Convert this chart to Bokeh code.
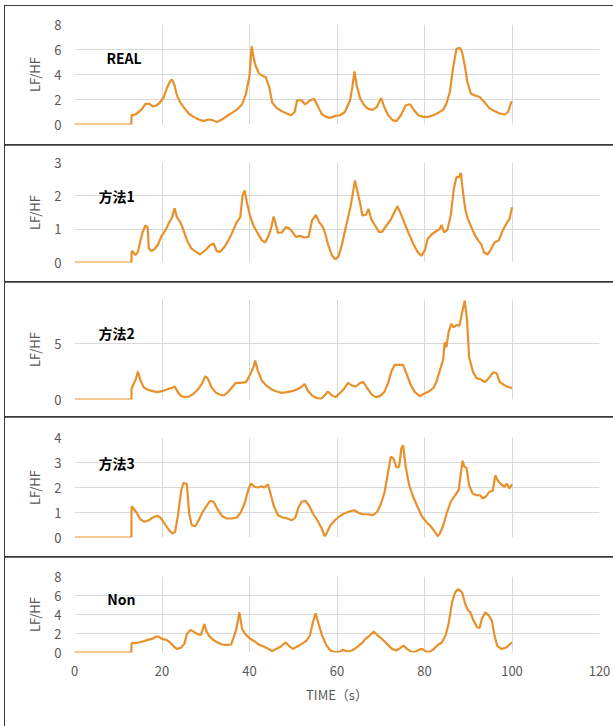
from bokeh.plotting import figure
from bokeh.layouts import column
from bokeh.models import Range1d, FixedTicker, Label
from bokeh.embed import file_html
from bokeh.resources import INLINE

# (time s, LF/HF) samples
REAL = [(0, 0), (13, 0), (13.05, 0.75), (13.9, 0.8), (14.7, 1.0), (15.5, 1.27), (16.2, 1.65), (17.1, 1.65),
        (17.9, 1.45), (18.6, 1.5), (19.4, 1.7), (20.4, 2.2), (21.1, 2.9), (21.9, 3.5), (22.3, 3.58), (22.9, 3.1),
        (23.4, 2.33), (24.2, 1.75), (25.2, 1.27), (26.1, 0.88), (27.2, 0.61), (28.4, 0.4), (29.5, 0.27), (30.6, 0.4),
        (31.6, 0.35), (32.5, 0.19), (33.7, 0.4), (34.8, 0.66), (36.0, 0.93), (37.1, 1.19), (38.3, 1.6), (39.2, 2.47),
        (40.0, 3.9), (40.5, 6.26), (41.0, 5.25), (41.4, 4.7), (42.2, 4.05), (43.2, 3.85), (43.7, 3.8), (44.5, 3.0),
        (45.2, 1.75), (46.2, 1.33), (47.4, 1.06), (48.5, 0.88), (49.5, 0.74), (50.3, 1.0), (50.9, 1.94), (51.9, 1.94),
        (52.7, 1.6), (53.6, 1.86), (54.7, 2.07), (55.6, 1.49), (56.5, 0.85), (57.5, 0.61), (58.4, 0.53), (59.6, 0.69),
        (60.7, 0.74), (61.8, 1.0), (63.0, 1.94), (63.5, 3.0), (64.0, 4.24), (64.5, 3.13), (65.3, 2.07), (66.1, 1.6),
        (67.0, 1.27), (68.1, 1.17), (69.1, 1.4), (70.1, 2.12), (70.8, 1.4), (71.7, 0.74), (72.7, 0.35), (73.6, 0.27),
        (74.6, 0.74), (75.7, 1.54), (76.7, 1.62), (77.6, 1.14), (78.6, 0.74), (79.7, 0.61), (80.8, 0.61), (82.0, 0.74),
        (83.1, 0.93), (84.3, 1.19), (85.0, 1.67), (85.8, 2.6), (86.5, 4.46), (87.3, 6.05), (88.1, 6.13), (88.6, 5.78),
        (89.2, 4.72), (89.8, 3.4), (90.6, 2.47), (91.5, 2.33), (92.6, 2.2), (93.8, 1.75), (94.9, 1.27), (96.1, 1.06),
        (97.2, 0.88), (98.4, 0.8), (99.1, 1.0), (99.9, 1.86)]

METHOD1 = [(0, 0), (13, 0), (13.05, 0.32), (13.3, 0.34), (13.9, 0.22), (14.5, 0.32), (15.1, 0.67), (15.6, 0.92),
           (16.2, 1.11), (16.7, 1.06), (17.0, 0.42), (17.6, 0.34), (18.3, 0.4), (19.1, 0.54), (19.8, 0.77),
           (20.8, 0.97), (21.5, 1.16), (22.3, 1.36), (22.9, 1.63), (23.4, 1.36), (24.2, 1.21), (24.9, 0.97),
           (25.7, 0.67), (26.7, 0.42), (27.8, 0.32), (28.7, 0.24), (29.9, 0.37), (31.0, 0.52), (31.8, 0.57),
           (32.5, 0.34), (33.3, 0.32), (34.3, 0.47), (35.4, 0.72), (36.3, 0.97), (37.1, 1.21), (37.9, 1.36),
           (38.4, 2.0), (38.9, 2.16), (39.4, 1.81), (40.2, 1.36), (40.9, 1.11), (41.9, 0.87), (42.8, 0.67),
           (43.6, 0.6), (44.4, 0.82), (45.0, 1.06), (45.5, 1.38), (45.9, 1.21), (46.5, 0.89), (47.4, 0.9),
           (48.3, 1.06), (49.0, 1.03), (49.8, 0.92), (50.6, 0.77), (51.6, 0.8), (52.4, 0.75), (53.5, 0.77),
           (54.3, 1.26), (55.2, 1.43), (55.9, 1.21), (56.7, 1.09), (57.3, 0.87), (58.0, 0.52), (58.8, 0.22),
           (59.6, 0.1), (60.3, 0.17), (61.1, 0.52), (62.0, 1.06), (63.0, 1.61), (63.6, 2.06), (64.1, 2.46),
           (64.7, 2.11), (65.3, 1.76), (65.8, 1.41), (66.6, 1.43), (67.2, 1.61), (67.8, 1.31), (68.7, 1.11),
           (69.6, 0.92), (70.3, 0.92), (71.3, 1.11), (72.3, 1.29), (73.1, 1.51), (73.8, 1.69), (74.6, 1.46),
           (75.5, 1.16), (76.4, 0.87), (77.4, 0.57), (78.4, 0.32), (79.3, 0.2), (80.1, 0.37), (80.7, 0.7),
           (81.6, 0.84), (82.7, 0.94), (83.5, 1.0), (83.9, 1.13), (84.5, 0.9), (85.2, 0.97), (86.0, 1.41),
           (86.7, 2.21), (87.3, 2.56), (87.9, 2.56), (88.3, 2.69), (88.8, 2.11), (89.3, 1.61), (89.9, 1.31),
           (90.7, 1.06), (91.5, 0.82), (92.4, 0.64), (93.0, 0.54), (93.6, 0.3), (94.4, 0.24), (95.1, 0.37),
           (96.0, 0.6), (97.0, 0.67), (97.9, 0.97), (98.9, 1.21), (99.4, 1.29), (100.0, 1.66)]

METHOD2 = [(0, 0), (13, 0), (13.05, 0.96), (13.5, 1.4), (14.0, 1.8), (14.5, 2.51), (15.1, 1.7), (15.8, 1.1),
           (16.8, 0.87), (17.9, 0.75), (18.9, 0.66), (20.0, 0.75), (21.1, 0.9), (22.1, 1.02), (22.9, 1.17),
           (23.4, 0.81), (24.2, 0.36), (25.2, 0.21), (26.2, 0.27), (27.2, 0.51), (28.2, 0.9), (29.1, 1.4),
           (29.9, 2.1), (30.5, 1.86), (31.3, 1.1), (32.2, 0.66), (33.1, 0.45), (34.1, 0.36), (35.1, 0.66),
           (36.0, 1.1), (36.9, 1.5), (37.9, 1.5), (39.2, 1.56), (40.2, 2.3), (40.9, 2.9), (41.3, 3.5),
           (41.9, 2.6), (42.8, 1.7), (44.0, 1.2), (45.1, 0.9), (46.2, 0.72), (47.4, 0.6), (48.5, 0.66),
           (49.7, 0.75), (50.8, 0.9), (51.8, 1.1), (52.6, 1.4), (53.3, 0.81), (54.3, 0.36), (55.4, 0.12),
           (56.4, 0.06), (57.3, 0.42), (57.9, 0.72), (58.7, 0.42), (59.6, 0.21), (60.5, 0.51), (61.5, 0.9),
           (62.5, 1.5), (63.4, 1.26), (64.3, 1.17), (65.3, 1.5), (66.0, 1.56), (66.8, 1.1), (68.0, 0.42),
           (68.9, 0.21), (69.8, 0.3), (70.8, 0.66), (71.7, 1.5), (72.5, 2.6), (73.2, 3.11), (74.1, 3.11),
           (75.1, 3.11), (75.9, 2.3), (76.9, 1.26), (77.8, 0.66), (78.9, 0.3), (79.9, 0.51), (81.0, 0.72),
           (82.0, 1.02), (82.7, 1.56), (83.5, 2.6), (84.3, 3.65), (84.6, 5.15), (85.0, 4.7), (85.5, 6.05),
           (86.1, 6.8), (86.7, 6.5), (87.3, 6.7), (88.0, 6.65), (88.6, 7.84), (89.2, 8.9), (89.7, 7.25),
           (90.2, 3.8), (91.1, 2.45), (91.9, 1.92), (92.9, 1.8), (93.8, 1.56), (94.7, 1.92), (95.7, 2.45),
           (96.5, 2.36), (97.2, 1.56), (98.4, 1.26), (99.3, 1.1), (100.0, 1.02)]

METHOD3 = [(0, 0), (13, 0), (13.05, 1.25), (13.5, 1.16), (14.3, 0.96), (15.1, 0.72), (16.0, 0.63), (17.0, 0.69),
           (17.9, 0.8), (18.9, 0.87), (19.6, 0.8), (20.6, 0.56), (21.5, 0.32), (22.3, 0.16), (23.0, 0.23),
           (23.6, 0.83), (24.4, 1.89), (24.9, 2.19), (25.7, 2.13), (26.2, 0.96), (26.8, 0.49), (27.6, 0.45),
           (28.4, 0.69), (29.3, 1.03), (30.3, 1.29), (31.0, 1.47), (31.8, 1.43), (32.8, 1.09), (33.8, 0.85),
           (34.8, 0.76), (36.0, 0.76), (37.1, 0.8), (38.1, 1.03), (39.0, 1.43), (39.8, 1.96), (40.4, 2.16),
           (41.1, 2.03), (41.9, 2.0), (42.7, 2.05), (43.4, 2.0), (44.2, 2.13), (44.7, 1.83), (45.5, 1.29),
           (46.5, 0.89), (47.6, 0.8), (48.6, 0.76), (49.7, 0.69), (50.5, 0.8), (51.1, 1.16), (51.9, 1.43),
           (52.8, 1.47), (53.7, 1.25), (54.5, 0.96), (55.5, 0.69), (56.5, 0.36), (57.2, 0.05), (57.8, 0.23),
           (58.5, 0.49), (59.5, 0.69), (60.6, 0.85), (61.6, 0.96), (62.7, 1.03), (63.9, 1.09), (64.9, 0.99),
           (65.9, 0.93), (67.2, 0.93), (68.2, 0.89), (69.2, 1.03), (70.0, 1.33), (70.8, 1.76), (71.5, 2.43),
           (72.3, 3.23), (72.9, 3.16), (73.6, 2.8), (74.2, 2.83), (74.7, 3.56), (75.1, 3.69), (75.7, 2.83),
           (76.5, 2.09), (77.4, 1.63), (78.4, 1.23), (79.4, 0.85), (80.4, 0.63), (81.4, 0.45), (82.2, 0.27),
           (83.0, 0.05), (83.5, 0.16), (84.3, 0.49), (85.0, 0.93), (86.0, 1.43), (87.0, 1.69), (87.8, 1.89),
           (88.3, 2.56), (88.7, 3.07), (89.1, 2.83), (89.6, 2.8), (90.2, 2.09), (91.0, 1.76), (91.9, 1.69),
           (92.7, 1.69), (93.3, 1.56), (94.1, 1.65), (94.8, 1.83), (95.6, 1.87), (96.2, 2.49), (96.7, 2.29),
           (97.5, 2.13), (98.3, 2.03), (98.8, 2.16), (99.4, 1.96), (100.0, 2.13)]

NON = [(0, 0), (13, 0), (13.05, 0.98), (13.9, 0.98), (14.9, 1.08), (15.8, 1.19), (16.7, 1.33), (17.7, 1.43),
       (18.7, 1.68), (19.2, 1.68), (20.0, 1.43), (21.0, 1.33), (21.8, 1.08), (22.7, 0.63), (23.4, 0.38),
       (24.3, 0.49), (25.1, 0.91), (25.7, 1.96), (26.5, 2.38), (27.2, 2.2), (28.0, 1.96), (28.9, 1.85),
       (29.7, 3.0), (30.1, 2.31), (30.7, 1.78), (31.7, 1.33), (32.6, 1.08), (33.7, 0.84), (34.9, 0.8),
       (35.8, 0.84), (36.4, 1.61), (37.0, 2.48), (37.7, 4.23), (38.3, 2.48), (39.0, 1.96), (40.0, 1.5),
       (41.1, 1.19), (42.1, 0.84), (43.2, 0.63), (44.4, 0.38), (45.1, 0.14), (46.1, 0.38), (47.2, 0.63),
       (48.2, 1.08), (48.95, 0.73), (49.9, 0.38), (50.9, 0.63), (52.0, 0.91), (53.0, 1.26), (53.8, 1.78),
       (54.5, 3.18), (55.1, 4.13), (55.8, 3.0), (56.6, 1.78), (57.6, 0.73), (58.5, 0.21), (59.6, 0.03),
       (60.4, 0.03), (61.4, 0.28), (62.3, 0.1), (63.4, 0.21), (64.6, 0.56), (65.7, 0.98), (66.5, 1.43),
       (67.5, 1.78), (68.4, 2.2), (69.3, 1.78), (70.3, 1.43), (71.4, 0.91), (72.6, 0.38), (73.6, 0.21),
       (74.5, 0.49), (75.2, 0.73), (76.0, 0.38), (76.9, 0.1), (77.7, 0.03), (78.7, 0.28), (79.4, 0.38),
       (80.2, 0.14), (81.0, 0.03), (81.9, 0.28), (82.9, 0.73), (84.0, 1.08), (84.8, 1.78), (85.5, 3.0),
       (86.3, 5.28), (87.0, 6.33), (87.7, 6.68), (88.6, 6.33), (89.3, 5.1), (89.9, 4.48), (90.5, 4.23),
       (91.2, 3.36), (92.0, 2.66), (92.6, 2.59), (93.1, 3.53), (93.9, 4.23), (94.7, 3.88), (95.4, 3.36),
       (96.0, 1.78), (96.6, 0.73), (97.5, 0.38), (98.5, 0.49), (99.2, 0.73), (100.0, 1.08)]

series = [REAL, METHOD1, METHOD2, METHOD3, NON]
panel_names = ["REAL", "方法1", "方法2", "方法3", "Non"]
y_max = [8, 3, 9, 4, 8]
y_ticks = [[0, 2, 4, 6, 8], [0, 1, 2, 3], [0, 5], [0, 1, 2, 3, 4], [0, 2, 4, 6, 8]]
x_ticks = [0, 20, 40, 60, 80, 100, 120]
label_pos = [(7.3, 5.3), (5.5, 2.0), (5.5, 6.0), (5.5, 2.97), (7.5, 5.6)]

# layout (pixels)
heights = [139, 137, 135, 140, 169]
tops = [18, 17, 17, 20, 19]
bottoms = [21, 20, 18, 20, 74]

LINE = "#E8912A"
GRID = "#D9D9D9"
TICK = "#595959"
FONT = "Noto Sans CJK SC"

figs = []
for i, data in enumerate(series):
    xs = [d[0] for d in data]
    ys = [d[1] for d in data]
    last = i == len(series) - 1
    p = figure(width=608, height=heights[i], output_backend="svg", toolbar_location=None,
               x_range=Range1d(0, 120), y_range=Range1d(0, y_max[i]),
               min_border_left=69, min_border_right=14,
               min_border_top=tops[i], min_border_bottom=bottoms[i],
               background_fill_color="white", border_fill_color="white",
               styles={"outline": "1px solid #3a3a3a"})
    p.outline_line_color = None
    p.line(xs, ys, line_color=LINE, line_width=2.2)

    p.xaxis.ticker = FixedTicker(ticks=x_ticks)
    p.yaxis.ticker = FixedTicker(ticks=y_ticks[i])
    p.xgrid.ticker = FixedTicker(ticks=x_ticks)
    p.ygrid.ticker = FixedTicker(ticks=y_ticks[i])
    for g in (p.xgrid[0], p.ygrid[0]):
        g.grid_line_color = GRID
        g.grid_line_width = 1

    for ax in (p.xaxis[0], p.yaxis[0]):
        ax.axis_line_color = None
        ax.major_tick_line_color = None
        ax.minor_tick_line_color = None
        ax.major_tick_out = 0
        ax.major_tick_in = 0
        ax.minor_tick_out = 0
        ax.major_label_text_color = TICK
        ax.major_label_text_font = FONT
        ax.major_label_text_font_size = "13px"
        ax.axis_label_text_color = TICK
        ax.axis_label_text_font = FONT
        ax.axis_label_text_font_size = "13px"
        ax.axis_label_text_font_style = "normal"

    p.yaxis.axis_label = "LF/HF"
    p.yaxis.major_label_standoff = 13
    p.yaxis.axis_label_standoff = 7

    if last:
        p.xaxis.axis_label = "TIME（s）"
        p.xaxis.major_label_standoff = 13
        p.xaxis.axis_label_standoff = 6
    else:
        p.xaxis.visible = False

    lx, ly = label_pos[i]
    p.add_layout(Label(x=lx, y=ly, text=panel_names[i], text_font=FONT, text_font_style="bold",
                       text_font_size="14px", text_color="black", text_baseline="middle"))
    figs.append(p)

layout = column(*figs, spacing=0, styles={"margin-left": "5px", "margin-top": "6px"})
open("out.html", "w").write(file_html(layout, INLINE))
